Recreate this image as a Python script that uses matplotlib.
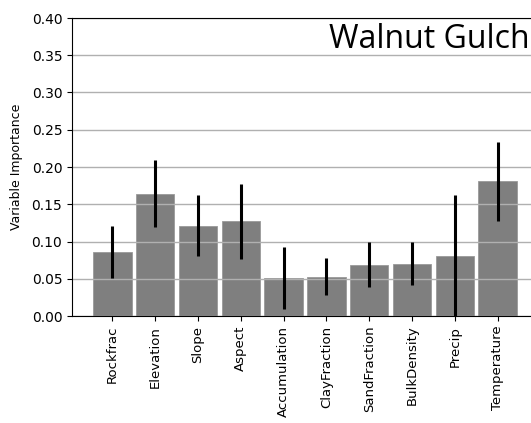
import matplotlib.pyplot as plt

# variable importance for each predictor, with std across runs
variables = ['Rockfrac', 'Elevation', 'Slope', 'Aspect', 'Accumulation',
             'ClayFraction', 'SandFraction', 'BulkDensity', 'Precip', 'Temperature']
importance = [0.086, 0.164, 0.121, 0.127, 0.051, 0.053, 0.069, 0.070, 0.081, 0.181]
importance_std = [0.035, 0.045, 0.041, 0.050, 0.042, 0.025, 0.030, 0.029, 0.081, 0.053]

yticks = [0.00, 0.05, 0.10, 0.15, 0.20, 0.25, 0.30, 0.35, 0.40]

fig = plt.figure(figsize=(5.31, 4.23), dpi=100)
ax = fig.add_axes([72 / 531, 107 / 423, 466 / 531, 298 / 423])

x = range(len(variables))
ax.bar(x, importance, width=0.9, color='#7f7f7f', edgecolor='#9a9a9a', linewidth=0.6,
       yerr=importance_std, error_kw=dict(ecolor='black', elinewidth=2.2, capsize=0))

ax.set_xticks(list(x))
ax.set_xticklabels(variables, rotation=90, fontsize=9.5)
ax.set_yticks(yticks)
ax.set_yticklabels([f'{v:.2f}' for v in yticks], fontsize=10)
ax.set_ylim(0, 0.40)
ax.set_xlim(-0.945, 9.945)
ax.set_ylabel('Variable Importance', fontsize=9)
ax.yaxis.set_label_coords(-0.105, 0.5)
ax.grid(axis='y', color='#b0b0b0', linewidth=1.0)
ax.spines['right'].set_visible(False)

ax.text(530 / 531, 1 - 40 / 423, 'Walnut Gulch', transform=fig.transFigure,
        ha='right', va='center', fontsize=23, family='Open Sans')

fig.savefig('out.png', dpi=100)
